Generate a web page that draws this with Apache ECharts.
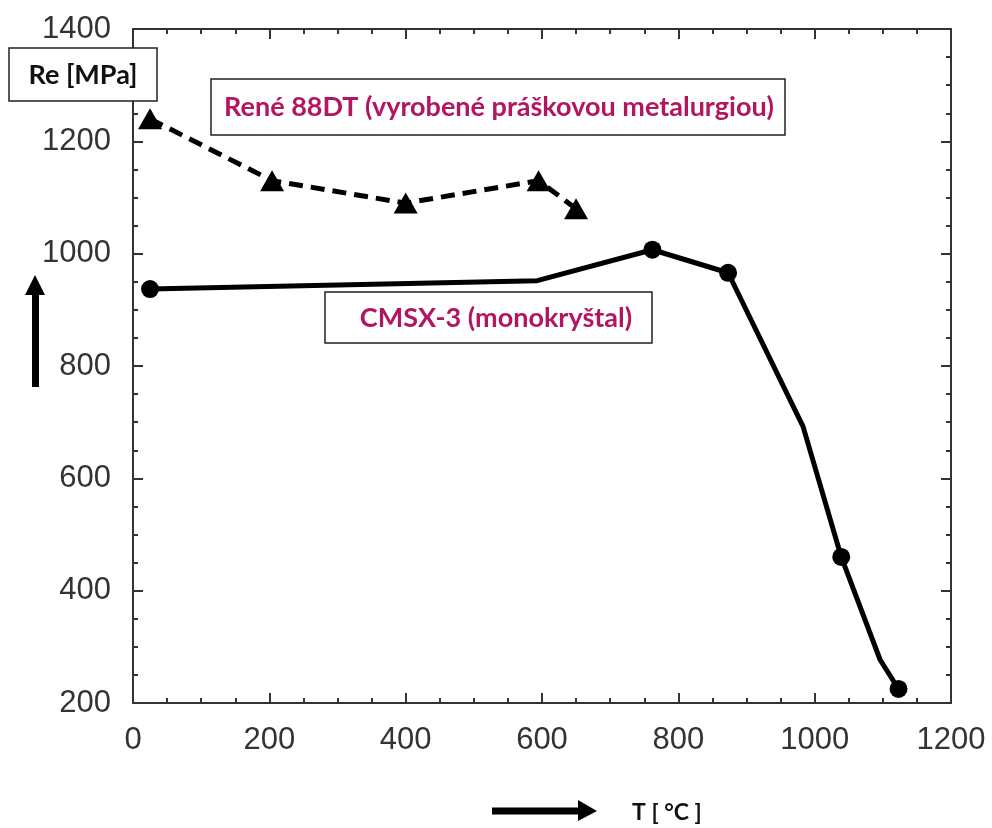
<!DOCTYPE html>
<html>
<head>
<meta charset="utf-8">
<script src="https://cdn.jsdelivr.net/npm/echarts@6/dist/echarts.min.js"></script>
<style>
html,body{margin:0;padding:0;background:#fff;}
#chart{width:992px;height:828px;}
</style>
</head>
<body>
<div id="chart"></div>
<script>
// René 88DT (powder metallurgy)
const reneT  = [25, 204, 400, 595, 650];
const reneRe = [1240, 1130, 1090, 1130, 1080];
// CMSX-3 (single crystal)
const cmsxT  = [25, 593, 762, 873, 983, 1039, 1096, 1123];
const cmsxRe = [937, 952, 1007, 966, 692, 460, 277, 225];
const cmsxMarked = [true, false, true, true, false, true, false, true];
// axes
const xMin = 0, xMax = 1200, xStep = 200;
const yMin = 200, yMax = 1400, yStep = 200;
// texts
const yTitle = 'Re [MPa]';
const xTitle = 'T [ °C ]';
const reneLabel = 'René 88DT (vyrobené práškovou metalurgiou)';
const cmsxLabel = 'CMSX-3 (monokryštal)';

const chart = echarts.init(document.getElementById('chart'), null, {renderer: 'canvas'});

const axisLineStyle = {color: '#333', width: 2};
const labelStyle = {fontFamily: 'Liberation Sans, Arial, sans-serif', fontSize: 31, color: '#333'};

function makeAxis(kind, pos, showLabel) {
  const isX = kind === 'x';
  return {
    type: 'value',
    position: pos,
    min: isX ? xMin : yMin,
    max: isX ? xMax : yMax,
    interval: isX ? xStep : yStep,
    axisLine: {show: true, onZero: false, lineStyle: axisLineStyle},
    axisTick: {show: true, inside: true, length: 10, lineStyle: {color: '#333', width: 2}},
    minorTick: {show: true, splitNumber: 4, length: 5, lineStyle: {color: '#333', width: 2}},
    splitLine: {show: false},
    axisLabel: Object.assign({show: showLabel, margin: isX ? 22 : 22, formatter: v => String(v)}, labelStyle)
  };
}

const reneData = reneT.map((t, i) => [t, reneRe[i]]);
const cmsxData = cmsxT.map((t, i) => cmsxMarked[i] ? {value: [t, cmsxRe[i]]} : {value: [t, cmsxRe[i]], symbol: 'none'});

const boxStyle = {fill: '#fff', stroke: '#222', lineWidth: 1.5};
const magenta = '#b3155e';
const boxFont = 'bold 27px Lato, "Open Sans", sans-serif';

chart.setOption({
  animation: false,
  backgroundColor: '#fff',
  grid: {left: 133, right: 41, top: 29, bottom: 125, containLabel: false},
  xAxis: [makeAxis('x', 'bottom', true), makeAxis('x', 'top', false)],
  yAxis: [makeAxis('y', 'left', true), makeAxis('y', 'right', false)],
  series: [
    {
      name: 'René 88DT',
      type: 'line',
      data: reneData,
      symbol: 'triangle',
      symbolSize: [24, 21],
      lineStyle: {color: '#000', width: 5, type: [14, 8]},
      itemStyle: {color: '#000'},
      z: 3
    },
    {
      name: 'CMSX-3',
      type: 'line',
      data: cmsxData,
      symbol: 'circle',
      symbolSize: 18,
      lineStyle: {color: '#000', width: 5},
      itemStyle: {color: '#000'},
      z: 3
    }
  ],
  graphic: [
    {type: 'rect', shape: {x: 9, y: 48, width: 148, height: 53}, style: boxStyle, z: 100},
    {type: 'text', x: 83, y: 75, style: {text: yTitle, font: boxFont, fill: '#111', align: 'center', verticalAlign: 'middle'}, z: 101},
    {type: 'rect', shape: {x: 211, y: 79, width: 574, height: 56}, style: boxStyle, z: 100},
    {type: 'text', x: 499, y: 107, style: {text: reneLabel, font: boxFont, fill: magenta, align: 'center', verticalAlign: 'middle'}, z: 101},
    {type: 'rect', shape: {x: 325, y: 292, width: 327, height: 51}, style: boxStyle, z: 100},
    {type: 'text', x: 496, y: 318, style: {text: cmsxLabel, font: boxFont, fill: magenta, align: 'center', verticalAlign: 'middle'}, z: 101},
    {type: 'polygon', shape: {points: [[32, 387], [32, 295], [25, 295], [35, 275], [45, 295], [39, 295], [39, 387]]}, style: {fill: '#000'}, z: 100},
    {type: 'polygon', shape: {points: [[492, 807.5], [578, 807.5], [578, 800], [597, 811], [578, 821], [578, 814.5], [492, 814.5]]}, style: {fill: '#000'}, z: 100},
    {type: 'text', x: 632, y: 813, style: {text: xTitle, font: 'bold 23px Lato, "Open Sans", sans-serif', fill: '#111', align: 'left', verticalAlign: 'middle'}, z: 101}
  ]
});
</script>
</body>
</html>
